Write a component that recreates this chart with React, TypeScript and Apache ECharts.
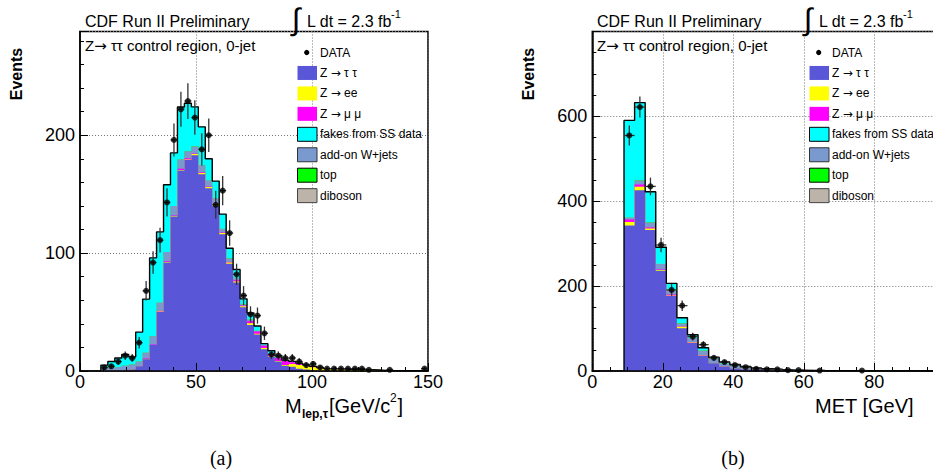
import React, { useEffect, useRef } from "react";
import * as echarts from "echarts";

// ---------------- data ----------------
const BIN_WIDTH = 3;

// Panel (a): M_lep,tau [GeV/c^2]
const massBins = [9, 12, 15, 18, 21, 24, 27, 30, 33, 36, 39, 42, 45, 48, 51, 54, 57, 60, 63, 66, 69, 72, 75, 78, 81, 84, 87, 90, 93, 96, 99, 102, 105, 108, 111, 114, 117, 120, 123, 126, 129, 132, 135, 138, 141, 144, 147];
const massData = [3, 4, 8, 13, 11, 24, 68, 92, 111, 143, 196, 222, 229, 215, 188, 200, 141, 153, 117, 82, 64, 48, 47, 32, 14, 13, 11, 11, 8, 5, 6, 3, 2, 2, 2, 2, 2, 2, 1, 0, 0, 1, 0, 0, 0, 0, 2];
const massZtautau = [0.3, 0.5, 0.5, 1, 1.5, 4, 10, 22, 50, 92, 131, 170, 179, 183, 167, 155, 140, 116, 91, 75, 54, 39, 31, 18.5, 12, 8, 4.5, 3.5, 2, 1.3, 0.6, 0.3, 0.2, 0.2, 0.1, 0.1, 0.1, 0.1, 0.1, 0, 0, 0, 0, 0, 0, 0, 0];
const massZee = [0, 0, 0, 0, 0, 0, 0, 0, 0.5, 0.5, 0.5, 0.5, 0.5, 1, 1, 1, 1, 1, 1, 1, 1, 1.5, 0.5, 1, 0.5, 0.5, 0.5, 2.5, 3, 3, 2.5, 2, 1.5, 1.3, 1.2, 1, 0.9, 0.8, 0.7, 0.5, 0.3, 0.2, 0.2, 0.1, 0.1, 0.1, 0.1];
const massZmumu = [0, 0, 0, 0, 0, 0, 0.5, 0.5, 0.5, 0.5, 0.5, 1, 1, 0.5, 0.5, 0.5, 0.5, 0.5, 0.5, 1, 0.5, 2, 2, 2, 1.5, 2.5, 3.5, 1.5, 1, 0.4, 0.3, 0.2, 0.1, 0.1, 0.1, 0.1, 0.1, 0.1, 0, 0, 0, 0, 0, 0, 0, 0, 0];
const massWjets = [2, 2.5, 3, 3.5, 4, 4, 5, 7, 7, 8, 8, 8, 6, 6, 6, 5, 5, 3, 3, 2, 1, 1, 0.5, 0.5, 1, 0.5, 0.2, 0.2, 0.2, 0.1, 0.1, 0.1, 0, 0, 0, 0, 0, 0, 0, 0, 0, 0, 0, 0, 0, 0, 0];
const massTop = [0, 0, 0, 0, 0, 0, 0, 0, 0, 0, 0, 0, 0.1, 0.1, 0.1, 0.1, 0.1, 0.1, 0.1, 0.1, 0.1, 0.1, 0.1, 0.1, 0.1, 0.1, 0.1, 0.1, 0.1, 0.1, 0.1, 0, 0, 0, 0, 0, 0, 0, 0, 0, 0, 0, 0, 0, 0, 0, 0];
const massDiboson = [0, 0, 0, 0, 0, 0, 0, 0, 0, 0, 0, 0, 0, 0, 0, 0, 0, 0, 0, 0, 0.1, 0.1, 0.1, 0.1, 0.1, 0.1, 0.1, 0.1, 0.1, 0.1, 0.1, 0.2, 0.2, 0.3, 0.3, 0.3, 0.3, 0.3, 0.3, 0.3, 0.2, 0.1, 0.1, 0.1, 0.1, 0.1, 0.1];
const massFakes = [2.7, 5, 7.5, 9.5, 6.5, 25, 45.5, 66.5, 60, 57, 45, 44.5, 40.5, 33.5, 32.5, 18.5, 14.5, 12.5, 8.5, 7, 4.5, 5.5, 4, 1, 2, 1.5, 0.3, 0.3, 0.3, 0.2, 0.2, 0.2, 0, 0.1, 0.1, 0, 0.1, 0, 0, 0, 0, 0, 0, 0, 0, 0, 0];

// Panel (b): MET [GeV]
const metBins = [9, 12, 15, 18, 21, 24, 27, 30, 33, 36, 39, 42, 45, 48, 51, 54, 57, 60, 63, 66, 69, 72, 75, 78, 81, 84, 87, 90, 93, 96];
const metData = [555, 622, 435, 297, 191, 154, 81, 62, 31, 21, 14, 9, 5, 4, 4, 2, 2, 0, 1, 0, 0, 0, 1, 0, 0, 0, 0, 0, 0, 0];
const metZtautau = [343, 426, 332, 236, 177, 101, 66, 36, 18, 10.5, 6.6, 4, 2.5, 1.5, 1, 0.6, 0.4, 0.3, 0.2, 0.2, 0.1, 0.1, 0.1, 0.1, 0, 0, 0, 0, 0, 0];
const metZee = [8, 8, 4, 2, 1, 3, 1, 0.5, 0.5, 0.3, 0.2, 0.2, 0.1, 0.1, 0.1, 0, 0, 0, 0, 0, 0, 0, 0, 0, 0, 0, 0, 0, 0, 0];
const metZmumu = [6, 5.5, 2, 1, 2, 1, 1, 0.5, 0.5, 0.2, 0.2, 0.2, 0.1, 0.1, 0.1, 0, 0, 0, 0, 0, 0, 0, 0, 0, 0, 0, 0, 0, 0, 0];
const metWjets = [4, 9.5, 12, 13, 10, 7, 10, 11, 10, 6, 5, 4, 3, 2.5, 1.8, 1.5, 1.3, 1, 0.8, 0.7, 0.6, 0.5, 0.4, 0.3, 0.3, 0.2, 0.2, 0.2, 0.1, 0.1];
const metTop = [0.3, 0.3, 0.3, 0.3, 0.3, 0.3, 0.3, 0.2, 0.2, 0.2, 0.2, 0.2, 0.1, 0.1, 0.1, 0.1, 0.1, 0, 0, 0, 0, 0, 0, 0, 0, 0, 0, 0, 0, 0];
const metDiboson = [0.2, 0.2, 0.2, 0.2, 0.2, 0.2, 0.2, 0.2, 0.1, 0.1, 0.1, 0.1, 0.1, 0.1, 0.1, 0.1, 0, 0, 0, 0, 0, 0, 0, 0, 0, 0, 0, 0, 0, 0];
const metFakes = [229, 183, 72, 39, 16, 13, 7, 6.5, 3, 4, 3, 2, 1.3, 0.8, 0.5, 0.4, 0.3, 0.2, 0.2, 0.1, 0.1, 0.1, 0.1, 0, 0, 0, 0, 0, 0, 0];

// legend labels; {a|…} marks the arrow glyph
const legendLabels = ["DATA", "Z {a|\u2192} \u03c4 \u03c4", "Z {a|\u2192} ee", "Z {a|\u2192} \u03bc \u03bc", "fakes from SS data", "add-on W+jets", "top", "diboson"];

// ---------------- styling ----------------
const FONT = '"Liberation Sans", Arial, Helvetica, sans-serif';
const ARROW_FONT = '"DejaVu Sans", sans-serif';
const SERIF = '"Liberation Serif", "Times New Roman", serif';
const C_ZTT = "#5a56d8";
const C_ZEE = "#ffff00";
const C_ZMM = "#ff00ff";
const C_FAKE = "#00ffff";
const C_W = "#7a99cf";
const C_TOP = "#00ff00";
const C_DB = "#bcb3a9";
const legendColors = [C_ZTT, C_ZEE, C_ZMM, C_FAKE, C_W, C_TOP, C_DB];
const legendBorders = [null, null, null, "#000", "#333", "#000", "#444"];

type Panel = {
  bins: number[];
  data: number[];
  layers: number[][]; // bottom -> top
};

const panelA: Panel = {
  bins: massBins,
  data: massData,
  layers: [massZtautau, massZee, massZmumu, massWjets, massTop, massDiboson, massFakes],
};
const panelB: Panel = {
  bins: metBins,
  data: metData,
  layers: [metZtautau, metZee, metZmumu, metWjets, metTop, metDiboson, metFakes],
};
const layerColors = [C_ZTT, C_ZEE, C_ZMM, C_W, C_TOP, C_DB, C_FAKE];

function stepPoints(bins: number[], vals: number[]) {
  const pts: number[][] = [[bins[0], 0]];
  for (let i = 0; i < bins.length; i++) pts.push([bins[i], vals[i]]);
  pts.push([bins[bins.length - 1] + BIN_WIDTH, 0]);
  return pts;
}

function panelSeries(p: Panel, xi: number, yi: number) {
  const cum: number[][] = [];
  let run = p.bins.map(() => 0);
  p.layers.forEach((layer) => {
    run = run.map((v, i) => v + layer[i]);
    cum.push(run);
  });
  const series: any[] = [];
  for (let k = cum.length - 1; k >= 0; k--) {
    series.push({
      type: "line",
      xAxisIndex: xi,
      yAxisIndex: yi,
      data: stepPoints(p.bins, cum[k]),
      step: "end",
      symbol: "none",
      showSymbol: false,
      silent: true,
      lineStyle: { width: 0, opacity: 0 },
      areaStyle: { color: layerColors[k], opacity: 1 },
      z: 2,
    });
  }
  // outline of the total
  series.push({
    type: "line",
    xAxisIndex: xi,
    yAxisIndex: yi,
    data: stepPoints(p.bins, cum[cum.length - 1]),
    step: "end",
    symbol: "none",
    showSymbol: false,
    silent: true,
    lineStyle: { width: 1.4, color: "#000" },
    z: 3,
  });
  const pts = p.bins
    .map((lo, i) => [lo + BIN_WIDTH / 2, p.data[i], lo, lo + BIN_WIDTH, Math.sqrt(p.data[i])])
    .filter((d) => d[1] > 0);
  series.push({
    type: "custom",
    xAxisIndex: xi,
    yAxisIndex: yi,
    data: pts,
    encode: { x: 0, y: 1 },
    silent: true,
    z: 4,
    renderItem: (params: any, api: any) => {
      const xc = api.value(0);
      const n = api.value(1);
      const lo = api.value(2);
      const hi = api.value(3);
      const e = api.value(4);
      const t = api.coord([xc, n + e]);
      const b = api.coord([xc, Math.max(0, n - e)]);
      const l = api.coord([lo, n]);
      const r = api.coord([hi, n]);
      const st = { stroke: "#333", lineWidth: 1.3 };
      return {
        type: "group",
        children: [
          { type: "line", shape: { x1: t[0], y1: t[1], x2: b[0], y2: b[1] }, style: st },
          { type: "line", shape: { x1: l[0], y1: l[1], x2: r[0], y2: r[1] }, style: st },
        ],
      };
    },
  });
  series.push({
    type: "scatter",
    xAxisIndex: xi,
    yAxisIndex: yi,
    data: pts.map((d) => [d[0], d[1]]),
    symbol: "circle",
    symbolSize: 6,
    itemStyle: { color: "#000" },
    silent: true,
    z: 5,
  });
  return series;
}

const labelStyle = { fontFamily: FONT, fontSize: 18, color: "#000" };
const splitStyle = { show: true, lineStyle: { color: "#777", width: 1, type: [1, 2] } };
const blackLine = { color: "#000", width: 1.5 };

function xAxes(grid: number, max: number, interval: number, minorSplit: number, showMax: boolean) {
  return [
    {
      gridIndex: grid, type: "value", min: 0, max, interval, position: "bottom",
      axisLine: { show: false }, axisTick: { show: false },
      axisLabel: { ...labelStyle, margin: 2, showMaxLabel: showMax },
      splitLine: splitStyle, z: 0,
    },
    {
      gridIndex: grid, type: "value", min: 0, max, interval, position: "bottom",
      axisLine: { show: true, onZero: false, lineStyle: blackLine },
      axisTick: { show: true, inside: true, length: 8, lineStyle: { color: "#000", width: 1 } },
      minorTick: { show: true, splitNumber: minorSplit, length: 4, lineStyle: { color: "#000", width: 1 } },
      axisLabel: { show: false }, splitLine: { show: false }, z: 10,
    },
  ];
}

function yAxes(grid: number, max: number, interval: number, minorInterval: number) {
  return [
    {
      gridIndex: grid, type: "value", min: 0, max, interval, position: "left",
      axisLine: { show: false }, axisTick: { show: false },
      axisLabel: { ...labelStyle, margin: 5, showMaxLabel: false },
      splitLine: splitStyle, z: 0,
    },
    {
      gridIndex: grid, type: "value", min: 0, max, interval, position: "left",
      axisLine: { show: true, onZero: false, lineStyle: blackLine },
      axisTick: { show: true, inside: true, length: 8, lineStyle: { color: "#000", width: 1 } },
      axisLabel: { show: false }, splitLine: { show: false }, z: 10,
    },
    {
      gridIndex: grid, type: "value", min: 0, max, interval: minorInterval, position: "left",
      axisLine: { show: false },
      axisTick: { show: true, inside: true, length: 4, lineStyle: { color: "#000", width: 1 } },
      axisLabel: { show: false }, splitLine: { show: false }, z: 10,
    },
  ];
}

function txt(x: number, y: number, s: string, font: string, align = "left", extra: any = {}, arrowSize = 0) {
  const style: any = { text: s, font, fill: "#000", align, verticalAlign: "middle", textAlign: align, textVerticalAlign: "middle" };
  if (arrowSize) {
    style.rich = { a: { fontFamily: ARROW_FONT, fontSize: arrowSize, fill: "#000" } };
  }
  return { type: "text", x, y, silent: true, z: 100, ...extra, style };
}

function panelGraphics(dx: number, xTitle: any[]) {
  const els: any[] = [];
  els.push(txt(85 + dx, 21.5, "CDF Run II Preliminary", `16px ${FONT}`));
  els.push(txt(296 + dx, 19.5, "\u222b", `31px ${FONT}`, "center"));
  els.push(txt(307 + dx, 21.5, "L dt = 2.3 fb", `16px ${FONT}`));
  els.push(txt(391 + dx, 14, "-1", `11px ${FONT}`));
  els.push(txt(85 + dx, 45.5, "Z{a|\u2192} \u03c4\u03c4 control region, 0-jet", `15px ${FONT}`, "left", {}, 15));
  els.push(txt(16.5 + dx, 74, "Events", `bold 16px ${FONT}`, "center", { rotation: Math.PI / 2 }));
  // legend
  const rowY = (i: number) => 52.5 + 20.45 * i;
  els.push({ type: "circle", silent: true, z: 100, shape: { cx: 306.7 + dx, cy: rowY(0), r: 2.6 }, style: { fill: "#000" } });
  legendLabels.forEach((lab, i) => {
    els.push(txt(320 + dx, rowY(i), lab, `12px ${FONT}`, "left", {}, 12));
    if (i > 0) {
      const b = legendBorders[i - 1];
      els.push({
        type: "rect", silent: true, z: 100,
        shape: { x: 297.5 + dx, y: rowY(i) - 7, width: 19.5, height: 14 },
        style: { fill: legendColors[i - 1], stroke: b || legendColors[i - 1], lineWidth: b ? 1 : 0 },
      });
    }
  });
  return els.concat(xTitle);
}

function buildOption() {
  const titleA = [
    txt(285, 405.5, "M", `20px ${FONT}`),
    txt(302, 413.5, "lep,\u03c4", `bold 12px ${FONT}`),
    txt(329, 405.5, "[GeV/c", `20px ${FONT}`),
    txt(390, 398, "2", `12px ${FONT}`),
    txt(397.5, 405.5, "]", `20px ${FONT}`),
  ];
  const titleB = [txt(815, 405.5, "MET [GeV]", `20px ${FONT}`)];
  return {
    animation: false,
    backgroundColor: "#fff",
    grid: [
      { left: 80, top: 31.5, width: 348, height: 339.5, show: true, borderColor: "#000", borderWidth: 1.5, backgroundColor: "transparent", containLabel: false, outerBoundsMode: "none" },
      { left: 592.3, top: 31.5, width: 352.5, height: 339.5, show: true, borderColor: "#000", borderWidth: 1.5, backgroundColor: "transparent", containLabel: false, outerBoundsMode: "none" },
    ],
    xAxis: [...xAxes(0, 150, 50, 5, true), ...xAxes(1, 100, 20, 4, false)],
    yAxis: [...yAxes(0, 288, 100, 20), ...yAxes(1, 800, 200, 50)],
    series: [...panelSeries(panelA, 0, 0), ...panelSeries(panelB, 2, 3)],
    graphic: {
      elements: [
        ...panelGraphics(0, titleA),
        ...panelGraphics(512, titleB),
        txt(221, 457.5, "(a)", `20px ${SERIF}`, "center"),
        txt(733, 457.5, "(b)", `20px ${SERIF}`, "center"),
      ],
    },
  };
}

export default function App() {
  const ref = useRef<HTMLDivElement>(null);
  useEffect(() => {
    if (!ref.current) return;
    const chart = echarts.init(ref.current, null, { renderer: "svg", width: 933, height: 475 });
    chart.setOption(buildOption() as any);
    return () => chart.dispose();
  }, []);
  return (
    <div
      ref={ref}
      style={{ position: "absolute", left: 0, top: 0, width: 933, height: 475, background: "#fff" }}
    />
  );
}
